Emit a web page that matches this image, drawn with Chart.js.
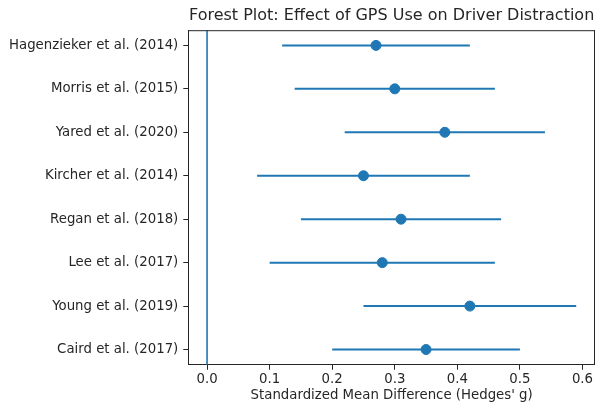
<!DOCTYPE html>
<html>
<head>
<meta charset="utf-8">
<script src="https://cdn.jsdelivr.net/npm/chart.js@4.4.0/dist/chart.umd.min.js"></script>
<style>
  html, body { margin: 0; padding: 0; background: #fff; overflow: hidden; }
  .wrap { width: 595px; height: 403px; overflow: hidden; }
  .box { width: 601px; height: 403px; position: relative; }
</style>
</head>
<body>
<div class="wrap"><div class="box"><canvas id="c"></canvas></div></div>
<script>
const studies = [
  'Hagenzieker et al. (2014)',
  'Morris et al. (2015)',
  'Yared et al. (2020)',
  'Kircher et al. (2014)',
  'Regan et al. (2018)',
  'Lee et al. (2017)',
  'Young et al. (2019)',
  'Caird et al. (2017)'
];
const effects = [0.27, 0.30, 0.38, 0.25, 0.31, 0.28, 0.42, 0.35];
const ciLow   = [0.12, 0.14, 0.22, 0.08, 0.15, 0.10, 0.25, 0.20];
const ciHigh  = [0.42, 0.46, 0.54, 0.42, 0.47, 0.46, 0.59, 0.50];
const xTicks  = [0.0, 0.1, 0.2, 0.3, 0.4, 0.5, 0.6];

const blue = '#1f77b4';
const ink = '#262626';
const font = 'DejaVu Sans';

const datasets = [];

// reference line at zero
datasets.push({
  type: 'line',
  data: [{ x: 0, y: -0.35 }, { x: 0, y: 7.35 }],
  borderColor: blue,
  borderWidth: 1.6,
  pointRadius: 0
});

// confidence intervals
studies.forEach((s, i) => {
  datasets.push({
    type: 'line',
    data: [{ x: ciLow[i], y: i }, { x: ciHigh[i], y: i }],
    borderColor: blue,
    borderWidth: 2,
    pointRadius: 0
  });
});

// point estimates
datasets.push({
  type: 'scatter',
  data: effects.map((v, i) => ({ x: v, y: i })),
  backgroundColor: blue,
  borderColor: blue,
  pointRadius: 5,
  pointHoverRadius: 5
});

// matplotlib-style top/right spines
const spines = {
  id: 'spines',
  afterDraw(chart) {
    const { ctx, chartArea: a } = chart;
    ctx.save();
    ctx.strokeStyle = ink;
    ctx.lineWidth = 1;
    ctx.beginPath();
    ctx.moveTo(a.left, a.top + 0.5);
    ctx.lineTo(a.right, a.top + 0.5);
    ctx.moveTo(a.right - 0.5, a.top);
    ctx.lineTo(a.right - 0.5, a.bottom);
    ctx.stroke();
    ctx.restore();
  }
};

new Chart(document.getElementById('c'), {
  type: 'scatter',
  data: { datasets },
  plugins: [spines],
  options: {
    responsive: true,
    maintainAspectRatio: false,
    animation: false,
    events: [],
    layout: { padding: { left: 4, right: 0, top: 0, bottom: 0 } },
    plugins: {
      legend: { display: false },
      tooltip: { enabled: false },
      title: {
        display: true,
        fullSize: false,
        text: 'Forest Plot: Effect of GPS Use on Driver Distraction',
        color: ink,
        font: { family: font, size: 16, weight: 'normal' },
        padding: { top: 6, bottom: 5 }
      }
    },
    scales: {
      x: {
        type: 'linear',
        min: -0.03,
        max: 0.62,
        afterBuildTicks: (axis) => { axis.ticks = xTicks.map(v => ({ value: v })); },
        ticks: {
          callback: (v) => Number(v).toFixed(1),
          color: ink,
          font: { family: font, size: 13.3, lineHeight: 1.1 },
          padding: 2,
          maxRotation: 0
        },
        grid: { drawOnChartArea: false, drawTicks: true, tickLength: 5, color: ink },
        border: { display: true, color: ink, width: 1 },
        title: {
          display: true,
          text: "Standardized Mean Difference (Hedges' g)",
          color: ink,
          font: { family: font, size: 13.3, lineHeight: 1.1 },
          padding: { top: 0, bottom: 0 }
        }
      },
      y: {
        type: 'linear',
        reverse: true,
        min: -0.35,
        max: 7.35,
        afterBuildTicks: (axis) => { axis.ticks = studies.map((s, i) => ({ value: i })); },
        ticks: {
          callback: (v) => studies[v] ?? '',
          color: ink,
          font: { family: font, size: 13.3 },
          padding: 5
        },
        grid: { drawOnChartArea: false, drawTicks: true, tickLength: 5, color: ink },
        border: { display: true, color: ink, width: 1 }
      }
    }
  }
});
</script>
</body>
</html>
